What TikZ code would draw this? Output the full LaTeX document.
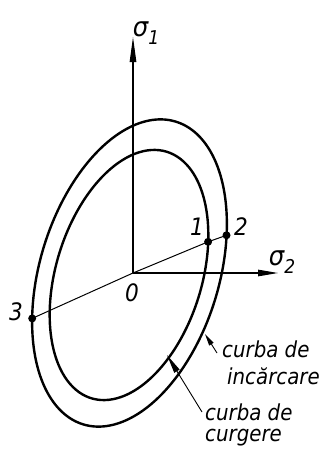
\documentclass[tikz,border=0pt]{standalone}
\usepackage{fontspec}
\setmainfont{DejaVu Sans}
\newfontfamily\hand{DejaVu Sans Condensed}
\usetikzlibrary{arrows.meta}
\begin{document}
\begin{tikzpicture}[x=1pt,y=-1pt,
  curve/.style={line width=2.4pt, line join=round},
  thinline/.style={line width=1pt},
  dot/.style={circle, fill, inner sep=0pt, minimum size=8pt},
  lbl/.style={font=\fontsize{22}{22}\selectfont\hand\itshape, inner sep=0pt},
  num/.style={font=\fontsize{24}{24}\selectfont\hand\itshape, inner sep=0pt},
  axisone/.style={line width=1.1pt, -{Triangle[length=25pt,width=6.5pt]}},
  axistwo/.style={line width=1.1pt, -{Triangle[length=20pt,width=6.5pt]}},
  calloutA/.style={line width=0.9pt, -{Triangle[length=12pt,width=5pt]}},
  calloutB/.style={line width=0.9pt, -{Triangle[length=19pt,width=6pt]}}]

\useasboundingbox (0,0) rectangle (322,459);

\coordinate (o) at (133,273);
\coordinate (s1) at (133,37);
\coordinate (s2) at (278,273);

% outer curve (curba de incarcare): tilted ellipse
\draw[curve] plot[domain=0:360, samples=120, smooth cycle]
  ({129.5 + 158.3*cos(\x)*0.2924 + 89.6*sin(\x)*0.9563},
   {273 - 158.3*cos(\x)*0.9563 + 89.6*sin(\x)*0.2924});

% inner curve (curba de curgere)
\draw[curve] plot[domain=0:360, samples=120, smooth cycle]
  ({129 + 128.9*cos(\x)*0.2924 + 73*sin(\x)*0.9563},
   {275 - 128.9*cos(\x)*0.9563 + 73*sin(\x)*0.2924});

% axes
\draw[axisone] (o) -- (s1);
\draw[axistwo] (o) -- (s2);

% points on the curves
\node[dot] (p1) at (208.1,241.8) {};
\node[dot] (p2) at (226.5,235.3) {};
\node[dot] (p3) at (32.2,318.4) {};

\draw[thinline] (p3.center) -- (o) -- (p1.center) -- (p2.center);

% labels
\node[num] (l1) at (197,227) {1};
\node[num] (l2) at (241,227) {2};
\node[num] (l3) at (16,312) {3};
\node[num] (l0) at (132,293) {0};

\node[inner sep=0pt] (sig1) at (146,33) {\fontsize{27}{27}\selectfont\hand\itshape σ\raisebox{-8pt}{\fontsize{19}{19}\selectfont 1}};
\node[inner sep=0pt] (sig2) at (282,262) {\fontsize{27}{27}\selectfont\hand\itshape σ\raisebox{-8pt}{\fontsize{19}{19}\selectfont 2}};

\node[lbl, anchor=base west] (t1) at (222,357) {curba de};
\node[lbl, anchor=base west] (t2) at (227,384) {incărcare};
\node[lbl, anchor=base west] (t3) at (205,420) {curba de};
\node[lbl, anchor=base west] (t4) at (205,441) {curgere};

\coordinate (a1) at (205,334);
\coordinate (a1s) at (217,353);
\draw[calloutA] (a1s) -- (a1);
\coordinate (a2) at (167,355);
\coordinate (a2s) at (202,412);
\draw[calloutB] (a2s) -- (a2);
\end{tikzpicture}
\end{document}
